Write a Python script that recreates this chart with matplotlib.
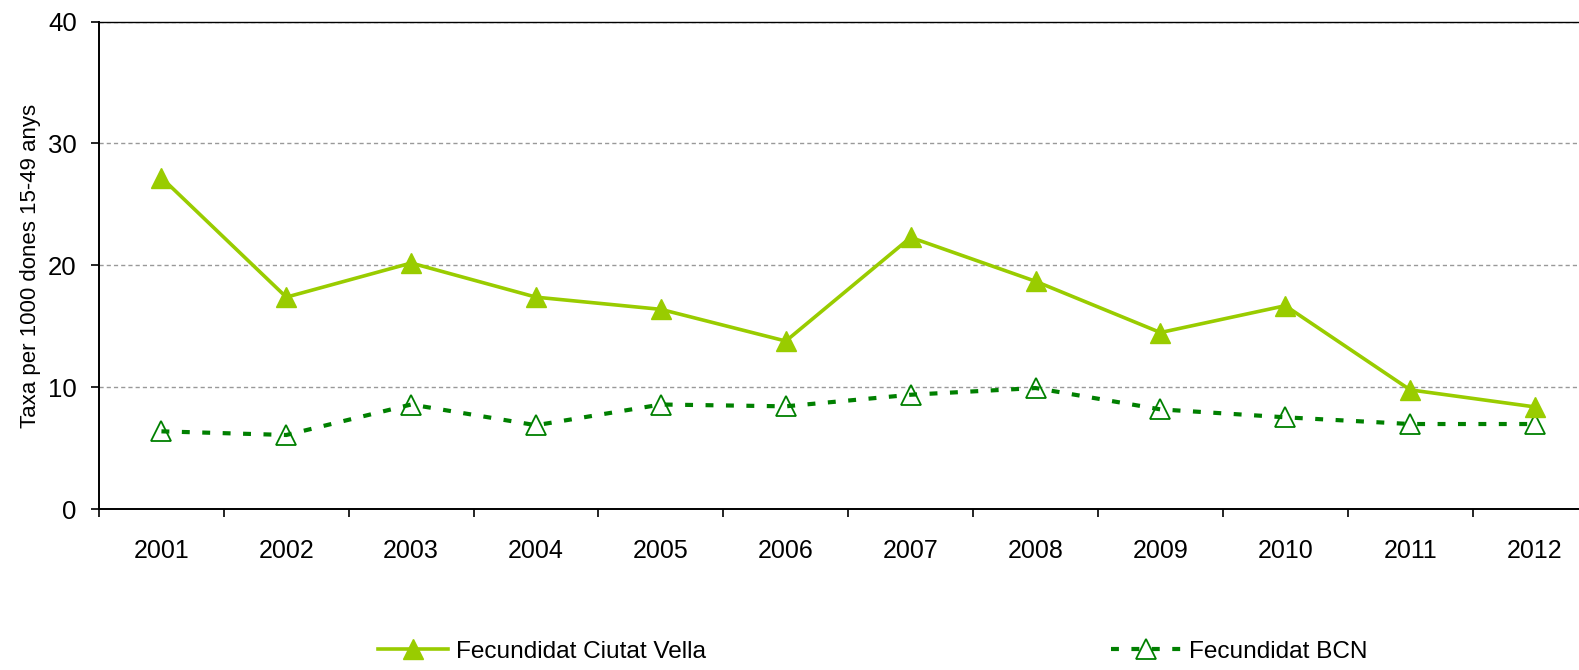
import matplotlib
matplotlib.use("Agg")
import matplotlib.pyplot as plt
from matplotlib.lines import Line2D

years = ["2001", "2002", "2003", "2004", "2005", "2006",
         "2007", "2008", "2009", "2010", "2011", "2012"]
ciutat_vella = [27.2, 17.4, 20.2, 17.4, 16.4, 13.8, 22.3, 18.7, 14.5, 16.7, 9.8, 8.4]
bcn = [6.4, 6.1, 8.6, 6.9, 8.6, 8.45, 9.4, 9.95, 8.2, 7.55, 7.0, 7.0]
y_ticks = [0, 10, 20, 30, 40]

LIME = "#99CC00"
GREEN = "#008000"

plt.rcParams["font.family"] = ["Liberation Sans", "DejaVu Sans"]

fig = plt.figure(figsize=(15.79, 6.70), dpi=100)
ax = fig.add_axes([0.0627, 0.2397, 0.949, 0.7282])

x = list(range(len(years)))
ax.plot(x, bcn, color=GREEN, lw=3.0, dashes=(1.9, 3.0), dash_capstyle="butt",
        marker="^", markersize=15, markerfacecolor="none",
        markeredgecolor=GREEN, markeredgewidth=1.3, zorder=3)
ax.plot(x, ciutat_vella, color=LIME, lw=2.6, marker="^", markersize=15,
        markerfacecolor=LIME, markeredgecolor=LIME, zorder=4)

ax.set_xlim(-0.5, len(years) - 0.5)
ax.set_ylim(0, 40)

# gridlines
for v in y_ticks[1:]:
    ax.axhline(v, color="#999999", lw=1.0, linestyle=(0, (3.0, 2.2)), zorder=1)

# y axis
ax.set_yticks(y_ticks)
ax.tick_params(axis="y", direction="out", length=6, width=1.2, pad=10, labelsize=18.5)
ax.set_ylabel("Taxa per 1000 dones 15-49 anys", fontsize=16, labelpad=5)

# x axis: ticks at category boundaries, labels at centres
ax.set_xticks([i - 0.5 for i in range(len(years) + 1)])
ax.set_xticklabels([])
ax.set_xticks(x, minor=True)
ax.set_xticklabels(years, minor=True)
ax.tick_params(axis="x", which="major", direction="out", length=6, width=1.2)
ax.tick_params(axis="x", which="minor", length=0, pad=21, labelsize=18)

for s in ["left", "bottom"]:
    ax.spines[s].set_linewidth(1.4)
ax.spines["top"].set_linewidth(1.0)
ax.spines["right"].set_visible(False)

handles = [
    Line2D([], [], color=LIME, lw=2.6, marker="^", markersize=15,
           markerfacecolor=LIME, markeredgecolor=LIME),
    Line2D([], [], color=GREEN, lw=3.0, dashes=(1.9, 3.0), marker="^",
           markersize=15, markerfacecolor="none", markeredgecolor=GREEN,
           markeredgewidth=1.3),
]
fig.legend(handles, ["Fecundidat Ciutat Vella", "Fecundidat BCN"],
           loc="center left", bbox_to_anchor=(0.2394, 0.027), ncol=2,
           frameon=False, fontsize=17.6, handlelength=2.85, handletextpad=0.32,
           columnspacing=16.6, borderpad=0, borderaxespad=0)

fig.savefig("out.png", dpi=100)
